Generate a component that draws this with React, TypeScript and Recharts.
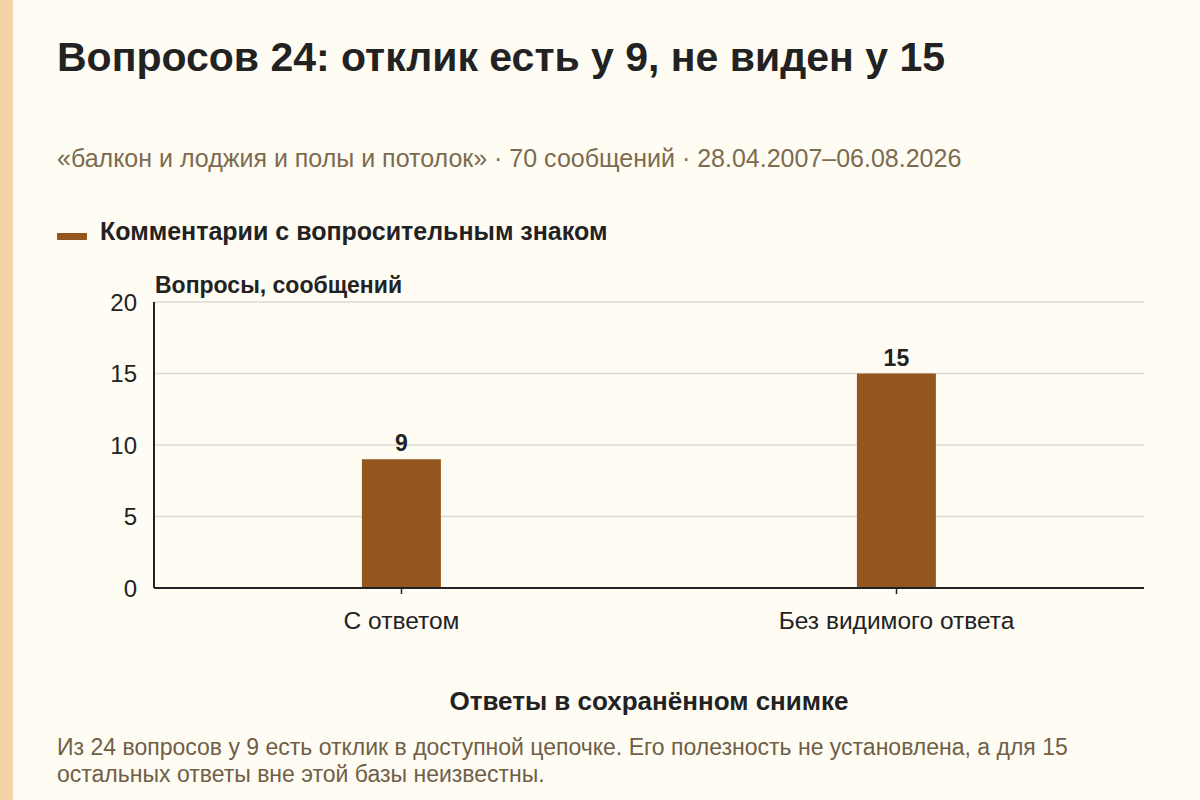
import { BarChart, Bar, XAxis, YAxis, CartesianGrid, LabelList } from "recharts";

const categories = ["С ответом", "Без видимого ответа"];
const questions = [9, 15];
const yTicks = [0, 5, 10, 15, 20];

const data = categories.map((label, i) => ({ label, value: questions[i] }));

const FONT = '"Liberation Sans", Arial, sans-serif';
const BAR = "#94561F";
const INK = "#222222";

export default function App() {
  return (
    <div
      style={{
        position: "absolute",
        left: 0,
        top: 0,
        width: 1200,
        height: 800,
        background: "#FFFCF4",
        fontFamily: FONT,
        overflow: "hidden",
      }}
    >
      <div style={{ position: "absolute", left: 0, top: 0, width: 13, height: 800, background: "#F5D3A6" }} />
      <div style={{ position: "absolute", left: 57, top: 34, fontSize: 41, fontWeight: 700, color: INK, whiteSpace: "nowrap" }}>
        Вопросов 24: отклик есть у 9, не виден у 15
      </div>
      <div style={{ position: "absolute", left: 57, top: 144, fontSize: 25, color: "#7D6B50", whiteSpace: "nowrap" }}>
        «балкон и лоджия и полы и потолок» · 70 сообщений · 28.04.2007–06.08.2026
      </div>
      <div style={{ position: "absolute", left: 57, top: 233, width: 30, height: 7, background: BAR }} />
      <div style={{ position: "absolute", left: 100, top: 217, fontSize: 25, fontWeight: 700, color: INK, whiteSpace: "nowrap" }}>
        Комментарии с вопросительным знаком
      </div>
      <div style={{ position: "absolute", left: 155, top: 272, fontSize: 23, fontWeight: 700, color: INK, whiteSpace: "nowrap" }}>
        Вопросы, сообщений
      </div>
      <div style={{ position: "absolute", left: 154, width: 990, top: 686, textAlign: "center", fontSize: 26, fontWeight: 700, color: INK }}>
        Ответы в сохранённом снимке
      </div>
      <div style={{ position: "absolute", left: 57, top: 734, width: 1030, fontSize: 23, lineHeight: "27px", color: "#6F5F47" }}>
        Из 24 вопросов у 9 есть отклик в доступной цепочке. Его полезность не установлена, а для 15 остальных ответы вне этой базы неизвестны.
      </div>

      <div style={{ position: "absolute", left: 0, top: 0 }}>
        <BarChart
          width={1200}
          height={680}
          data={data}
          margin={{ top: 302, right: 56, bottom: 52, left: 94 }}
          barCategoryGap="42%"
        >
          <CartesianGrid vertical={false} stroke="#DDDAD3" strokeWidth={1.5} />
          <XAxis
            dataKey="label"
            height={40}
            axisLine={{ stroke: INK, strokeWidth: 2 }}
            tickLine={{ stroke: INK, strokeWidth: 1.5 }}
            tickSize={6}
            tickMargin={18}
            tick={{ fill: INK, fontSize: 24.5, fontFamily: FONT }}
          />
          <YAxis
            width={60}
            domain={[0, 20]}
            ticks={yTicks}
            interval={0}
            axisLine={{ stroke: INK, strokeWidth: 2 }}
            tickLine={false}
            tickSize={0}
            tickMargin={17}
            tick={{ fill: INK, fontSize: 24, fontFamily: FONT }}
          />
          <Bar dataKey="value" fill={BAR} maxBarSize={79} isAnimationActive={false}>
            <LabelList dataKey="value" position="top" offset={8} fill={INK} fontSize={23} fontWeight={700} fontFamily={FONT} />
          </Bar>
        </BarChart>
      </div>
    </div>
  );
}
